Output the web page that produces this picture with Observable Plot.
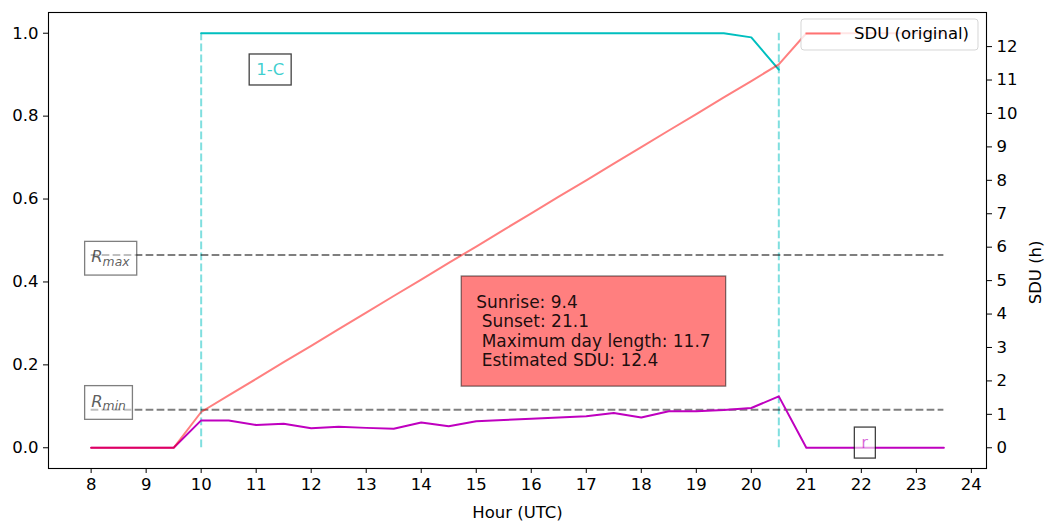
<!DOCTYPE html>
<html><head><meta charset="utf-8">
<script src="https://cdn.jsdelivr.net/npm/d3@7"></script>
<script src="https://cdn.jsdelivr.net/npm/@observablehq/plot@0.6"></script>
<style>
html,body{margin:0;padding:0;background:#fff;}
#chart svg text{white-space:pre;}
</style></head><body>
<div id="chart"></div>
<script>
// ---- data ----
const hours = [8,8.5,9,9.5,10,10.5,11,11.5,12,12.5,13,13.5,14,14.5,15,15.5,16,16.5,17,17.5,18,18.5,19,19.5,20,20.5,21,21.5,22,22.5,23,23.5];
const rValues = [0,0,0,0,0.066,0.066,0.055,0.058,0.047,0.051,0.048,0.046,0.061,0.052,0.064,0.067,0.070,0.073,0.076,0.084,0.073,0.088,0.088,0.091,0.096,0.124,0,0,0,0,0,0];
const sduValues = [0,0,0,0,1.07,1.57,2.06,2.56,3.05,3.55,4.04,4.54,5.03,5.53,6.02,6.52,7.01,7.51,8.00,8.50,8.99,9.49,9.98,10.48,10.97,11.47,12.4,12.4,12.4,12.4,12.4,12.4];
const coverHours = [10,10.5,11,11.5,12,12.5,13,13.5,14,14.5,15,15.5,16,16.5,17,17.5,18,18.5,19,19.5,20,20.5];
const oneMinusC = [1,1,1,1,1,1,1,1,1,1,1,1,1,1,1,1,1,1,1,1,0.99,0.912];
const dayBounds = [10, 20.5];
const Rmax = 0.465, Rmin = 0.092;
const sduMax = 12.4;
const xTicks = [8,9,10,11,12,13,14,15,16,17,18,19,20,21,22,23,24];
const yTicksLeft = [0,0.2,0.4,0.6,0.8,1.0];
const yTicksRight = [0,1,2,3,4,5,6,7,8,9,10,11,12];
const infoLines = ["Sunrise: 9.4", " Sunset: 21.1", " Maximum day length: 11.7", " Estimated SDU: 12.4"];
const legendLabel = "SDU (original)";

// ---- annotations (data units) ----
const labels = [
  {text:"1-C", x:11, y:0.912, color:"#00bfbf", opacity:0.75, box:{stroke:"#000", strokeOpacity:0.75, fill:"#fff", fillOpacity:0.6, padX:7, padY:6}},
  {text:"Rmax", base:"R", sub:"max", x:8, y:0.46, color:"#000", opacity:0.65, box:{stroke:"#000", strokeOpacity:0.5, fill:"#fff", fillOpacity:0.5, padX:6.5, padY:6}},
  {text:"Rmin", base:"R", sub:"min", x:8, y:0.112, color:"#000", opacity:0.65, box:{stroke:"#000", strokeOpacity:0.5, fill:"#fff", fillOpacity:0.5, padX:6.5, padY:6}},
  {text:"r", x:22, y:0.012, color:"#bf00bf", opacity:0.6, box:{stroke:"#000", strokeOpacity:0.75, fill:"#fff", fillOpacity:0.6, padX:7, padY:6}},
  {text:infoLines.join("\n"), x:15, y:0.282, color:"#000", opacity:0.9, fontSize:17, lineHeight:1.14, box:{stroke:"#000", strokeOpacity:0.5, fill:"#ff0000", fillOpacity:0.5, padX:15, padY:16}}
];

const rows = hours.map((h,i)=>({hour:h, r:rValues[i], sdu:sduValues[i]/sduMax}));
const cover = coverHours.map((h,i)=>({hour:h, v:oneMinusC[i]}));
const [xmin, xmax] = d3.extent(hours);
const xm = (xmax - xmin) * 0.05;
const ym = 0.05;
const dash = "7.7,3.3";
const W = 1048, H = 521, M = {top:12, right:62, bottom:53, left:48};

const plot = Plot.plot({
  width: W, height: H,
  marginTop: M.top, marginRight: M.right, marginBottom: M.bottom, marginLeft: M.left,
  style: {fontFamily: "'DejaVu Sans', sans-serif", fontSize: "16.5px", background: "#fff", color: "#000"},
  x: {domain: [xmin - xm, xmax + xm], label: null},
  y: {domain: [0 - ym, 1 + ym], label: null},
  marks: [
    Plot.ruleX(dayBounds, {x: d => d, y1: 0, y2: 1, stroke: "#00bfbf", strokeOpacity: 0.5, strokeWidth: 2, strokeDasharray: dash}),
    Plot.line(cover, {x: "hour", y: "v", stroke: "#00bfbf", strokeWidth: 2}),
    Plot.ruleY([Rmax, Rmin], {y: d => d, x1: xmin, x2: xmax, stroke: "#000", strokeOpacity: 0.5, strokeWidth: 2, strokeDasharray: dash}),
    Plot.line(rows, {x: "hour", y: "r", stroke: "#bf00bf", strokeWidth: 2}),
    Plot.line(rows, {x: "hour", y: "sdu", stroke: "#ff0000", strokeOpacity: 0.5, strokeWidth: 2}),
    ...labels.map(L => Plot.text([L.text], {
      text: d => d, x: () => L.x, y: () => L.y, textAnchor: "start", lineAnchor: "middle",
      fill: L.color, fillOpacity: L.opacity, lineHeight: L.lineHeight || 1,
      ...(L.fontSize ? {fontSize: L.fontSize} : {})
    })),
    Plot.frame({stroke: "#000", strokeWidth: 1.1}),
    Plot.axisX(xTicks, {tickSize: 5, tickPadding: 5, label: null}),
    Plot.axisY(yTicksLeft, {anchor: "left", tickSize: 5, tickPadding: 5, tickFormat: d3.format(".1f"), label: null}),
    Plot.axisY(yTicksRight.map(k => k / sduMax), {anchor: "right", tickSize: 5, tickPadding: 5, tickFormat: d => String(Math.round(d * sduMax)), label: null}),
    Plot.text(["Hour (UTC)"], {text: d => d, frameAnchor: "bottom", dy: 44, lineAnchor: "middle"}),
    Plot.text(["SDU (h)"], {text: d => d, frameAnchor: "right", dx: 49, rotate: -90, lineAnchor: "middle"})
  ]
});

document.getElementById("chart").append(plot);

// ---- boxes behind labels ----
const NS = "http://www.w3.org/2000/svg";
const norm = s => s.replace(/\s/g, "");
const allTexts = Array.from(plot.querySelectorAll("text"));
labels.forEach(L => {
  const t = allTexts.find(e => norm(e.textContent) === norm(L.text));
  if (!t) return;
  if (L.sub) {
    while (t.firstChild) t.removeChild(t.firstChild);
    const a = document.createElementNS(NS, "tspan");
    a.textContent = L.base; a.setAttribute("font-style", "italic");
    const b = document.createElementNS(NS, "tspan");
    b.textContent = L.sub; b.setAttribute("font-style", "italic");
    b.setAttribute("font-size", "0.75em"); b.setAttribute("dy", "0.3em");
    t.appendChild(a); t.appendChild(b);
  }
  const bb = t.getBBox();
  const r = document.createElementNS(NS, "rect");
  r.setAttribute("x", bb.x - L.box.padX);
  r.setAttribute("y", bb.y - L.box.padY);
  r.setAttribute("width", bb.width + 2 * L.box.padX);
  r.setAttribute("height", bb.height + 2 * L.box.padY);
  r.setAttribute("fill", L.box.fill);
  r.setAttribute("fill-opacity", L.box.fillOpacity);
  r.setAttribute("stroke", L.box.stroke);
  r.setAttribute("stroke-opacity", L.box.strokeOpacity);
  r.setAttribute("stroke-width", 1.3);
  const tr = t.getAttribute("transform");
  if (tr) r.setAttribute("transform", tr);
  t.parentNode.insertBefore(r, t);
});

// ---- legend (inside top-right of frame) ----
const svg = d3.select(plot);
const frameRight = W - M.right, frameTop = M.top;
const lgW = 177, lgH = 31;
const lgX = frameRight - 8 - lgW, lgY = frameTop + 7;
const lg = svg.append("g").attr("text-anchor", "start");
lg.append("rect").attr("x", lgX).attr("y", lgY).attr("width", lgW).attr("height", lgH).attr("rx", 3)
  .attr("fill", "#fff").attr("fill-opacity", 0.8).attr("stroke", "#ccc").attr("stroke-opacity", 0.8).attr("stroke-width", 1);
lg.append("line").attr("x1", lgX + 4.5).attr("x2", lgX + 39.5).attr("y1", lgY + 14.5).attr("y2", lgY + 14.5)
  .attr("stroke", "#ff0000").attr("stroke-opacity", 0.5).attr("stroke-width", 2);
lg.append("text").attr("x", lgX + 53).attr("y", lgY + 14.5).attr("dy", "0.32em").attr("fill", "#000")
  .attr("text-anchor", "start").text(legendLabel);
</script>
</body></html>
